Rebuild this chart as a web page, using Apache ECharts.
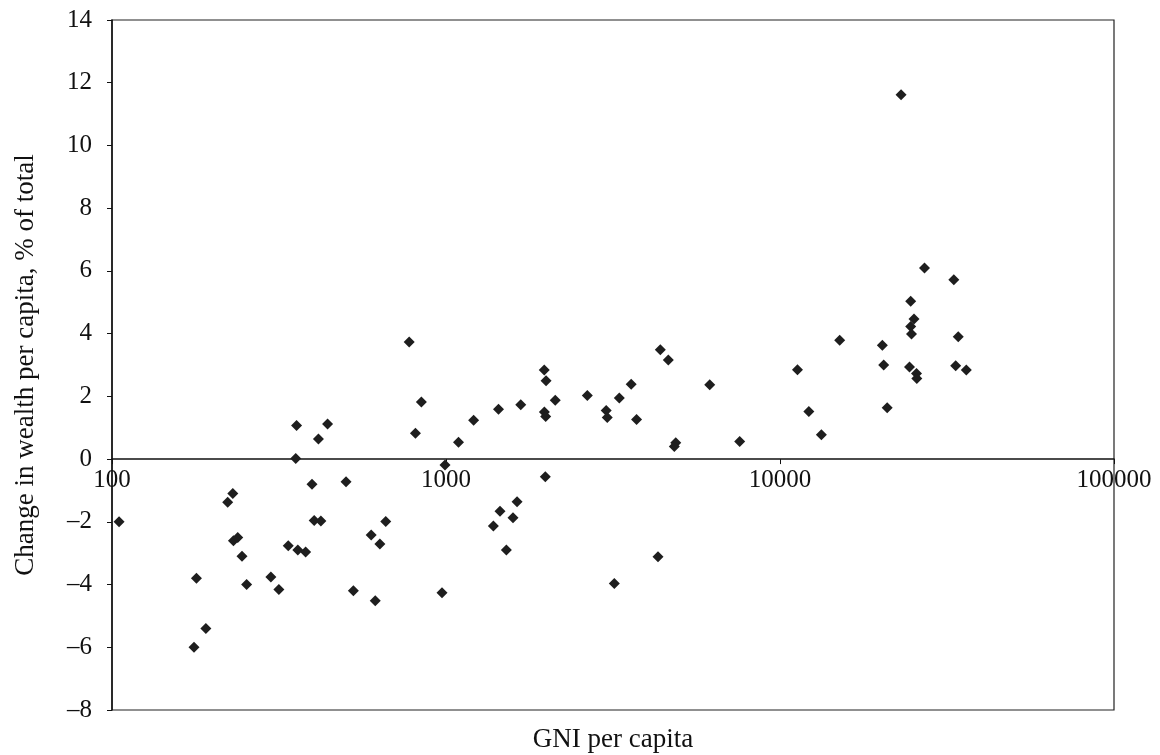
<!DOCTYPE html>
<html>
<head>
<meta charset="utf-8">
<title>Change in wealth per capita vs GNI per capita</title>
<script src="https://cdn.jsdelivr.net/npm/echarts@6/dist/echarts.min.js"></script>
<style>
  html, body { margin: 0; padding: 0; background: #fff; }
  #chart { width: 1160px; height: 755px; }
</style>
</head>
<body>
<div id="chart"></div>
<script>
// GNI per capita (US$, log scale) for each country
const gniPerCapita = [
  105, 176, 179, 191, 222, 230, 231, 238, 245, 253,
  299, 316, 337, 357, 355, 360, 380, 397, 403, 422,
  415, 442, 502, 528, 597, 614, 634, 660, 776, 810,
  844, 973, 993, 1090, 1210, 1386, 1436, 1451, 1516, 1587,
  1632, 1674, 1969, 1993, 1970, 1988, 1983, 2124, 2649, 3017,
  3040, 3191, 3303, 3585, 3720, 4313, 4382, 4630, 4873, 4826,
  6160, 7574, 11280, 12200, 13300, 15090, 20250, 20440, 20940, 23040,
  24620, 25190, 24620, 24760, 24420, 25630, 25680, 27080, 33140, 34180,
  33570, 36130
];

// Change in wealth per capita, % of total
const wealthChange = [
  -2.0, -6.0, -3.8, -5.4, -1.38, -1.1, -2.6, -2.5, -3.1, -4.0,
  -3.76, -4.16, -2.76, 1.07, 0.02, -2.9, -2.96, -0.8, -1.96, -1.97,
  0.64, 1.12, -0.72, -4.2, -2.42, -4.52, -2.71, -1.99, 3.73, 0.82,
  1.82, -4.26, -0.19, 0.54, 1.24, -2.13, 1.59, -1.66, -2.9, -1.87,
  -1.36, 1.73, 2.84, 2.5, 1.5, 1.36, -0.56, 1.88, 2.03, 1.55,
  1.33, -3.97, 1.95, 2.39, 1.26, -3.11, 3.49, 3.16, 0.52, 0.40,
  2.37, 0.56, 2.85, 1.52, 0.78, 3.79, 3.63, 3.0, 1.64, 11.62,
  5.03, 4.47, 4.23, 3.99, 2.94, 2.73, 2.57, 6.09, 5.72, 3.9,
  2.98, 2.84
];

const xTitle = 'GNI per capita';
const yTitle = 'Change in wealth per capita, % of total';

const Y_MIN = -8, Y_MAX = 14;
const GRID = { left: 112, right: 46, top: 20, bottom: 45 };
const CHART_H = 755;

const points = gniPerCapita.map((g, i) => [g, wealthChange[i]]);

// The horizontal axis (line, ticks, labels) sits on the y = 0 line,
// so shift it up from the bottom edge of the plot area.
const plotH = CHART_H - GRID.top - GRID.bottom;
const zeroOffset = -plotH * (0 - Y_MIN) / (Y_MAX - Y_MIN);

const serif = "'Liberation Serif', 'Times New Roman', 'DejaVu Serif', serif";
const textColor = '#111';

const chart = echarts.init(document.getElementById('chart'), null, { renderer: 'canvas' });

chart.setOption({
  animation: false,
  backgroundColor: '#fff',
  grid: {
    left: GRID.left, right: GRID.right, top: GRID.top, bottom: GRID.bottom,
    show: true, borderColor: '#222', borderWidth: 1.2,
    containLabel: false,
    outerBoundsMode: 'none'
  },
  xAxis: {
    type: 'log',
    logBase: 10,
    min: 100,
    max: 100000,
    position: 'bottom',
    offset: zeroOffset,
    name: xTitle,
    nameLocation: 'middle',
    nameGap: 267,
    nameTextStyle: { fontFamily: serif, fontSize: 27, color: textColor },
    axisLine: { show: true, onZero: false, lineStyle: { color: '#111', width: 1.5 } },
    axisTick: { show: true, inside: false, length: 5, lineStyle: { color: '#111' } },
    minorTick: { show: false },
    splitLine: { show: false },
    axisLabel: {
      fontFamily: serif, fontSize: 25, color: textColor, margin: 9,
      formatter: v => String(Math.round(v))
    }
  },
  yAxis: {
    type: 'value',
    min: Y_MIN,
    max: Y_MAX,
    interval: 2,
    name: yTitle,
    nameLocation: 'middle',
    nameRotate: 90,
    nameGap: 73,
    nameTextStyle: { fontFamily: serif, fontSize: 27, color: textColor },
    axisLine: { show: true, onZero: false, lineStyle: { color: '#111', width: 1.5 } },
    axisTick: { show: true, inside: false, length: 5, lineStyle: { color: '#111' } },
    splitLine: { show: false },
    axisLabel: {
      fontFamily: serif, fontSize: 25, color: textColor, margin: 20,
      formatter: v => (v < 0 ? '\u2013' + Math.abs(v) : String(v))
    }
  },
  series: [{
    type: 'scatter',
    data: points,
    symbol: 'diamond',
    symbolSize: 11,
    itemStyle: { color: '#1e1e1e', opacity: 1 },
    emphasis: { disabled: true }
  }]
});
</script>
</body>
</html>
